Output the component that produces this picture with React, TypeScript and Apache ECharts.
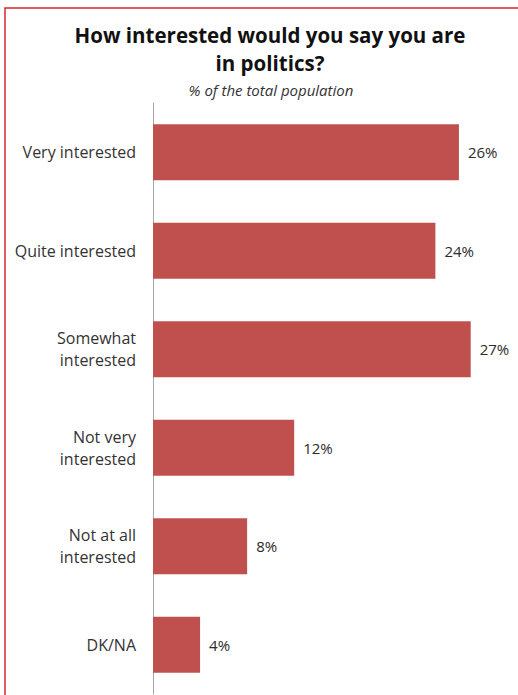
import React, { useEffect, useRef } from "react";
import * as echarts from "echarts";

const categories = [
  "Very interested",
  "Quite interested",
  "Somewhat\ninterested",
  "Not very\ninterested",
  "Not at all\ninterested",
  "DK/NA",
];
const values = [26, 24, 27, 12, 8, 4];
const titleText = "How interested would you say you are\nin politics?";
const subtitleText = "% of the total population";

const FONT = "'Open Sans', sans-serif";

export default function App() {
  const ref = useRef<HTMLDivElement>(null);
  useEffect(() => {
    if (!ref.current) return;
    const chart = echarts.init(ref.current, null, { renderer: "svg" });
    chart.setOption({
      animation: false,
      backgroundColor: "#ffffff",
      graphic: [
        {
          type: "rect",
          shape: { x: 5, y: 8, width: 700, height: 800 },
          style: { fill: "none", stroke: "#d8262f", lineWidth: 1.5 },
          silent: true,
        },
      ],
      title: [
        {
          text: titleText,
          left: 265,
          top: 16,
          textAlign: "center",
          textStyle: {
            fontFamily: FONT,
            fontSize: 20.5,
            fontWeight: "bold",
            color: "#111111",
            lineHeight: 28,
          },
        },
        {
          text: subtitleText,
          left: 266,
          top: 77,
          textAlign: "center",
          textStyle: {
            fontFamily: FONT,
            fontSize: 15,
            fontStyle: "italic",
            fontWeight: "normal",
            color: "#333333",
          },
        },
      ],
      grid: { left: 153, top: 103, width: 353, height: 591, containLabel: false },
      xAxis: {
        type: "value",
        min: 0,
        max: 30,
        show: false,
      },
      yAxis: {
        type: "category",
        data: categories,
        inverse: true,
        axisLine: { show: true, lineStyle: { color: "#a6a6a6", width: 1 } },
        axisTick: { show: false },
        axisLabel: {
          fontFamily: FONT,
          fontSize: 16,
          lineHeight: 22,
          color: "#333333",
          margin: 17,
          align: "right",
        },
      },
      series: [
        {
          type: "bar",
          data: values,
          barCategoryGap: "43%",
          itemStyle: { color: "#c0504d" },
          label: {
            show: true,
            position: "right",
            distance: 9,
            formatter: "{c}%",
            fontFamily: FONT,
            fontSize: 15,
            color: "#2b2b2b",
          },
        },
      ],
    });
    return () => chart.dispose();
  }, []);
  return (
    <div
      ref={ref}
      style={{ position: "fixed", left: 0, top: 0, width: 518, height: 695 }}
    />
  );
}
